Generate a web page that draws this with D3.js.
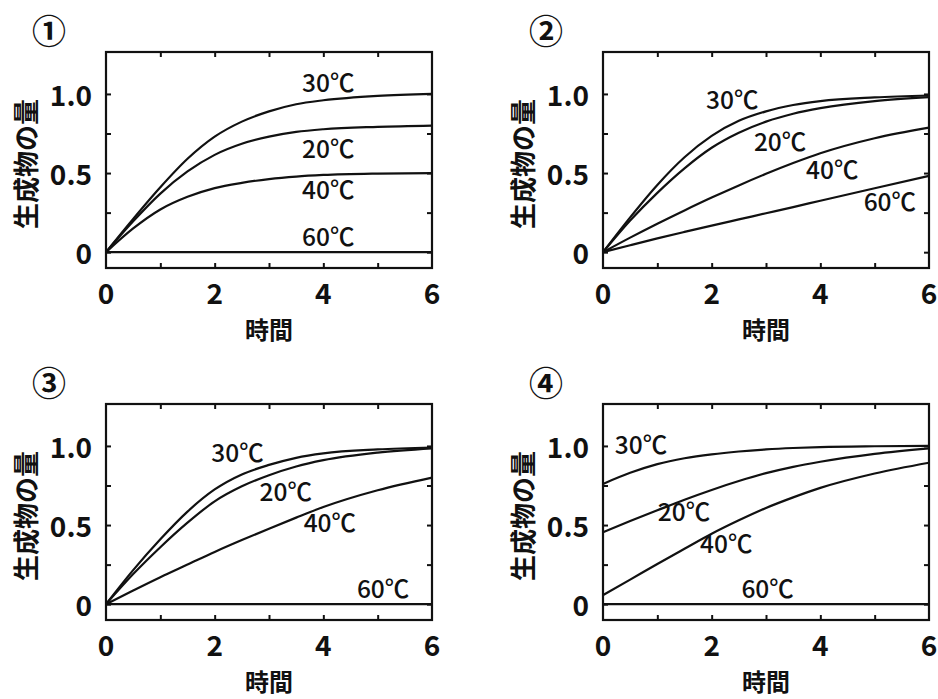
<!DOCTYPE html>
<html><head><meta charset="utf-8">
<script src="https://cdn.jsdelivr.net/npm/d3@7/dist/d3.min.js"></script>
<style>
html,body{margin:0;padding:0;background:#fff;}
svg{display:block;}
text{font-family:"Noto Sans CJK JP","Noto Sans",sans-serif;fill:#111;}
</style></head>
<body>
<svg id="chart" width="938" height="699"></svg>
<script>
// ---- data ----
const panelIds = ["①", "②", "③", "④"];
const series = ["30℃", "20℃", "40℃", "60℃"];
const times = [0, 0.5, 1, 1.5, 2, 2.5, 3, 3.5, 4, 5, 6];
const xTickLabels = [0, 2, 4, 6];
const yTickLabels = [0, 0.5, 1.0];

const p1_30 = [0, 0.21, 0.41, 0.59, 0.73, 0.825, 0.89, 0.935, 0.96, 0.988, 1.0];
const p1_20 = [0, 0.195, 0.37, 0.51, 0.615, 0.685, 0.73, 0.76, 0.777, 0.792, 0.80];
const p1_40 = [0, 0.15, 0.27, 0.35, 0.405, 0.438, 0.462, 0.478, 0.488, 0.497, 0.50];
const p1_60 = [0, 0, 0, 0, 0, 0, 0, 0, 0, 0, 0];

const p2_30 = [0, 0.22, 0.425, 0.60, 0.735, 0.83, 0.89, 0.93, 0.955, 0.978, 0.99];
const p2_20 = [0, 0.20, 0.375, 0.53, 0.66, 0.755, 0.825, 0.875, 0.91, 0.955, 0.98];
const p2_40 = [0, 0.092, 0.18, 0.264, 0.345, 0.422, 0.495, 0.563, 0.625, 0.72, 0.787];
const p2_60 = [0, 0.044, 0.087, 0.128, 0.168, 0.207, 0.246, 0.285, 0.325, 0.404, 0.482];

const p3_30 = [0, 0.215, 0.41, 0.585, 0.725, 0.82, 0.88, 0.925, 0.953, 0.978, 0.99];
const p3_20 = [0, 0.19, 0.36, 0.515, 0.65, 0.745, 0.815, 0.87, 0.91, 0.958, 0.985];
const p3_40 = [0, 0.086, 0.17, 0.25, 0.33, 0.405, 0.477, 0.547, 0.614, 0.72, 0.80];
const p3_60 = [0, 0, 0, 0, 0, 0, 0, 0, 0, 0, 0];

const p4_30 = [0.76, 0.83, 0.885, 0.922, 0.947, 0.965, 0.978, 0.987, 0.993, 0.998, 1.0];
const p4_20 = [0.455, 0.525, 0.593, 0.66, 0.722, 0.778, 0.828, 0.868, 0.90, 0.95, 0.985];
const p4_40 = [0.057, 0.155, 0.254, 0.35, 0.445, 0.53, 0.608, 0.675, 0.735, 0.826, 0.894];
const p4_60 = [0, 0, 0, 0, 0, 0, 0, 0, 0, 0, 0];

const panelValues = [
  [p1_30, p1_20, p1_40, p1_60],
  [p2_30, p2_20, p2_40, p2_60],
  [p3_30, p3_20, p3_40, p3_60],
  [p4_30, p4_20, p4_40, p4_60]
];

// label anchors in data units [time, value] (centre, baseline), order as series
const labelAnchors = [
  [[4.09, 1.01], [4.09, 0.594], [4.09, 0.337], [4.09, 0.042]],
  [[2.38, 0.904], [3.26, 0.642], [4.22, 0.46], [5.28, 0.261]],
  [[2.42, 0.90], [3.31, 0.65], [4.12, 0.455], [5.10, 0.042]],
  [[0.70, 0.95], [1.49, 0.523], [2.27, 0.322], [3.03, 0.042]]
];

// ---- layout ----
const svg = d3.select("#chart");
const PW = 326, PH = 216;
const origins = [[106, 52], [603, 52], [106, 404], [603, 404]];

panelIds.forEach((pid, i) => {
  const [x0, y0] = origins[i];
  const g = svg.append("g").attr("transform", `translate(${x0},${y0})`);
  const x = d3.scaleLinear().domain([0, 6]).range([0, PW]);
  const y = d3.scaleLinear().domain([-0.1, 1.265]).range([PH, 0]);

  // inner ticks on all sides
  const tl = 5;
  const xt = d3.range(1, 6);
  const yt = [0, 0.25, 0.5, 0.75, 1.0];
  g.append("g").call(d3.axisBottom(x).tickValues(xt).tickSize(-tl).tickFormat(""))
    .attr("transform", `translate(0,${PH})`);
  g.append("g").call(d3.axisTop(x).tickValues(xt).tickSize(-tl).tickFormat(""));
  g.append("g").call(d3.axisLeft(y).tickValues(yt).tickSize(-tl).tickFormat(""));
  g.append("g").call(d3.axisRight(y).tickValues(yt).tickSize(-tl).tickFormat(""))
    .attr("transform", `translate(${PW},0)`);
  g.selectAll(".domain").remove();
  g.selectAll(".tick line").attr("stroke", "#111").attr("stroke-width", 2);

  // curves
  const line = d3.line().x(d => x(d[0])).y(d => y(d[1])).curve(d3.curveMonotoneX);
  panelValues[i].forEach((vals, s) => {
    g.append("path")
      .datum(times.map((t, k) => [t, vals[k]]))
      .attr("d", line)
      .attr("fill", "none")
      .attr("stroke", "#111")
      .attr("stroke-width", 2.2)
      .attr("stroke-linejoin", "round");
  });

  // frame
  g.append("rect").attr("x", 0).attr("y", 0).attr("width", PW).attr("height", PH)
    .attr("fill", "none").attr("stroke", "#111").attr("stroke-width", 2.2);

  // series labels
  series.forEach((lab, s) => {
    const [lt, lv] = labelAnchors[i][s];
    g.append("text").attr("x", x(lt)).attr("y", y(lv))
      .attr("text-anchor", "middle")
      .attr("font-size", 24.5).attr("font-weight", 500)
      .text(lab);
  });

  // tick labels
  xTickLabels.forEach(v => {
    g.append("text").attr("x", x(v)).attr("y", PH + 24)
      .attr("text-anchor", "middle").attr("dominant-baseline", "central")
      .attr("font-size", 28).attr("font-weight", 600)
      .text(v);
  });
  yTickLabels.forEach(v => {
    g.append("text").attr("x", -14).attr("y", y(v))
      .attr("text-anchor", "end").attr("dominant-baseline", "central")
      .attr("font-size", 28).attr("font-weight", 600)
      .text(v === 0 ? "0" : v.toFixed(1));
  });

  // axis titles
  g.append("text").attr("x", PW / 2).attr("y", PH + 60)
    .attr("text-anchor", "middle").attr("dominant-baseline", "central")
    .attr("font-size", 24).attr("font-weight", 700)
    .text("時間");
  g.append("text")
    .attr("transform", `translate(${-82},${PH / 2 + 4}) rotate(-90)`)
    .attr("text-anchor", "middle").attr("dominant-baseline", "central")
    .attr("font-size", 26).attr("font-weight", 700)
    .text("生成物の量");

  // panel number
  g.append("text").attr("x", -57).attr("y", -23)
    .attr("text-anchor", "middle").attr("dominant-baseline", "central")
    .attr("font-size", 34).attr("font-weight", 700)
    .text(pid);
});
</script>
</body></html>
